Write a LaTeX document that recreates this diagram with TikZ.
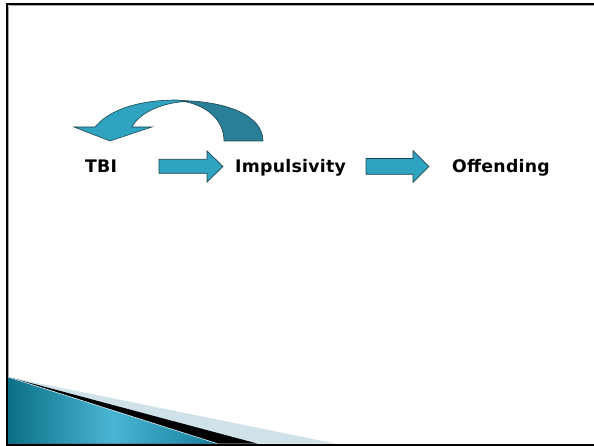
\documentclass[tikz,border=0pt]{standalone}
\usepackage{fontspec}
\newfontfamily\labelfont[LetterSpace=1.5]{DejaVu Sans Bold}
\definecolor{arrowfill}{HTML}{2FA3C0}
\definecolor{arrowback}{HTML}{287F97}
\definecolor{arrowline}{HTML}{1E4450}
\definecolor{tealdark}{HTML}{0B6E86}
\definecolor{teallight}{HTML}{4BB6D4}
\definecolor{tealtip}{HTML}{137F9A}
\definecolor{hatchblue}{HTML}{CFE2EA}
\tikzset{
  blockarrow/.style={fill=arrowfill, draw=arrowline, line width=0.7pt, line join=miter},
  curvefront/.style={fill=arrowfill, draw=arrowline, line width=0.6pt},
  curveback/.style={fill=arrowback, draw=arrowline, line width=0.6pt},
  label/.style={anchor=base west, inner sep=0pt, font=\labelfont\fontsize{17.3}{19}\selectfont}
}
\begin{document}
\begin{tikzpicture}[x=1pt,y=-1pt]
  \useasboundingbox (0,0) rectangle (594,446);
  \fill[white] (0,0) rectangle (594,446);

  % slide frame: left, top and bottom rules
  \draw[gray!70, line width=1pt] (8.8,6) -- (594,6);
  \draw[gray!70, line width=1pt] (8.8,6) -- (8.8,443);
  \draw[black, line width=2pt] (594,4.3) -- (7,4.3) -- (7,444.5) -- (594,444.5);

  % corner decoration, bottom left
  \fill[hatchblue] (8,377) -- (335,443.5) -- (8,443.5) -- cycle;
  \fill[black] (8,377) -- (257,443.5) -- (8,443.5) -- cycle;
  \shade[left color=tealdark, right color=tealtip, middle color=teallight]
    (8,377) -- (217,443.5) -- (8,443.5) -- cycle;
  \draw[white!80!teallight, line width=0.6pt] (8,377) -- (217,443.5);

  % curved feedback arrow: back half first, front half with head on top
  \draw[curveback] (224,141) -- (263,141)
    .. controls (263,116) and (228,100.5) .. (176,100.5)
    .. controls (200,102) and (224,116) .. (224,141) -- cycle;
  \draw[curvefront] (74,127) -- (95,127)
    .. controls (110,109) and (140,100) .. (177,100) -- (186,101.5)
    .. controls (158,103) and (138,115) .. (132,127)
    -- (152,127) -- (110,141) -- cycle;

  % labels
  \node[label] (tbi) at (85,173) {TBI};
  \node[label] (imp) at (235,173) {Impulsivity};
  \node[label] (off) at (452,173) {Offending};

  % block arrows between the labels
  \draw[blockarrow] (159,159.3) -- (207,159.3) -- (207,151) -- (223,166.5)
    -- (207,182) -- (207,173.3) -- (159,173.3) -- cycle;
  \draw[blockarrow] (366,158.5) -- (413,158.5) -- (413,150.7) -- (429,166.5)
    -- (413,182.3) -- (413,174.3) -- (366,174.3) -- cycle;
\end{tikzpicture}
\end{document}
